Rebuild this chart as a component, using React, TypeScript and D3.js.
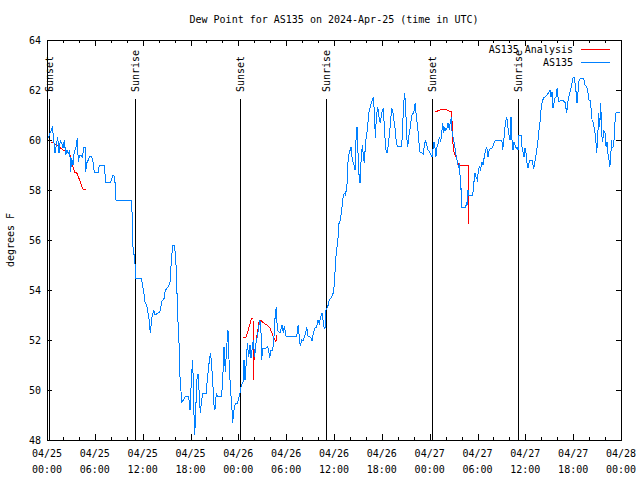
import React, { useEffect, useRef } from 'react';
import * as d3 from 'd3';

// time axis starts 2024-04-25 00:00 UTC, values are hours after that
const START_UTC = Date.UTC(2024, 3, 25);
const SPAN_HOURS = 72;

// AS135 observed dew point (F): [hour, value]
const as135Obs: [number, number][] = [
  [0.16, 60.07], [0.41, 60.3], [0.66, 60.5], [0.79, 60.2], [1.0, 59.47], [1.22, 59.87], [1.34, 60.13],
  [1.51, 59.47], [1.67, 60.0], [1.84, 59.87], [2.04, 59.67], [2.17, 60.0], [2.35, 59.4], [2.51, 59.6],
  [2.67, 59.47], [2.85, 59.6], [2.97, 58.73], [3.1, 59.27], [3.26, 59.0], [3.42, 59.53], [3.64, 59.73],
  [3.8, 60.07], [3.93, 59.13], [4.1, 59.4], [4.3, 59.4], [4.43, 59.27], [4.6, 59.7], [4.77, 59.7],
  [4.85, 58.73], [4.98, 59.07], [5.18, 59.2], [5.31, 59.33], [5.61, 59.33], [5.77, 59.13], [5.93, 58.7],
  [6.44, 58.7], [6.56, 59.0], [7.19, 59.0], [7.36, 58.3], [7.99, 58.3], [8.15, 58.47], [8.28, 58.6],
  [8.49, 58.53], [8.66, 57.6], [10.54, 57.6], [10.66, 57.2], [10.79, 55.73], [10.95, 55.33], [11.08, 54.93],
  [11.16, 54.47], [11.79, 54.47], [11.95, 54.27], [12.13, 53.93], [12.29, 53.53], [12.54, 53.33],
  [12.79, 52.87], [12.96, 52.27], [13.13, 52.87], [13.38, 53.2], [13.55, 53.0], [14.17, 53.13],
  [14.39, 53.53], [14.71, 53.67], [14.8, 53.93], [15.01, 54.07], [15.22, 54.13], [15.43, 54.33],
  [15.55, 54.93], [15.68, 55.47], [15.77, 55.8], [15.97, 55.8], [16.09, 55.47], [16.22, 54.8],
  [16.39, 53.0], [16.56, 51.87], [16.68, 50.53], [16.9, 49.53], [17.1, 49.6], [17.35, 49.73],
  [17.77, 49.73], [17.94, 49.2], [18.15, 50.67], [18.28, 51.2], [18.44, 49.0], [18.53, 48.2],
  [18.65, 49.07], [18.78, 50.4], [18.94, 50.63], [19.07, 50.0], [19.23, 49.07], [19.36, 49.47],
  [19.53, 49.87], [19.95, 49.87], [20.11, 50.4], [20.28, 50.93], [20.41, 51.33], [20.53, 51.47],
  [20.66, 50.93], [20.79, 50.33], [20.95, 49.4], [21.07, 49.2], [21.24, 49.87], [21.41, 49.73],
  [21.91, 49.73], [22.08, 50.73], [22.2, 51.73], [22.37, 50.73], [22.54, 51.73], [22.7, 52.4],
  [22.87, 50.87], [23.04, 49.93], [23.21, 49.2], [23.29, 48.69], [23.46, 49.2], [23.62, 49.44],
  [23.87, 49.47], [24.05, 49.67], [24.21, 49.87], [24.37, 50.2], [24.59, 50.33], [24.71, 51.2],
  [24.84, 50.4], [24.96, 50.93], [25.13, 51.87], [25.3, 51.33], [25.46, 51.8], [25.59, 51.27],
  [25.72, 51.6], [25.88, 52.0], [26.05, 51.33], [26.22, 51.87], [26.38, 52.13], [26.56, 52.53],
  [26.68, 52.77], [26.81, 52.73], [26.93, 51.2], [27.06, 51.67], [27.47, 51.67], [27.63, 51.73],
  [27.76, 51.67], [27.94, 51.27], [28.06, 51.6], [28.31, 51.6], [28.47, 52.13], [28.64, 53.07],
  [28.76, 53.31], [28.89, 52.4], [29.01, 52.33], [29.23, 52.3], [29.48, 52.6], [29.64, 52.27],
  [29.77, 52.56], [29.98, 52.16], [31.32, 52.16], [31.5, 52.6], [31.77, 51.75], [31.95, 52.0],
  [32.11, 51.95], [32.36, 52.2], [32.58, 52.5], [32.74, 52.15], [33.08, 52.1], [33.24, 51.95],
  [33.4, 52.27], [33.62, 52.47], [33.83, 52.53], [33.99, 52.8], [34.16, 52.67], [34.33, 52.93],
  [34.5, 53.07], [34.66, 52.73], [34.75, 52.5], [34.87, 52.47], [35.0, 53.2], [35.21, 53.33],
  [35.41, 53.6], [35.71, 53.71], [35.96, 53.93], [36.13, 54.73], [36.29, 55.53], [36.47, 55.93],
  [36.63, 56.67], [36.79, 56.8], [36.97, 57.2], [37.13, 57.67], [37.29, 57.87], [37.44, 57.8],
  [37.63, 58.2], [37.79, 59.33], [37.97, 59.53], [38.13, 59.73], [38.3, 59.2], [38.47, 59.07],
  [38.64, 58.8], [38.76, 60.0], [38.89, 60.53], [39.01, 59.5], [39.14, 58.6], [39.26, 58.27],
  [39.39, 59.13], [39.55, 59.8], [39.68, 59.4], [39.8, 59.07], [39.98, 60.0], [40.11, 60.2],
  [40.23, 60.6], [40.36, 61.07], [40.52, 61.27], [40.68, 61.47], [40.81, 61.6], [40.94, 61.73],
  [41.06, 61.13], [41.19, 60.07], [41.31, 60.93], [41.48, 61.33], [41.64, 60.93], [41.81, 60.67],
  [41.99, 61.07], [42.19, 61.27], [42.37, 60.2], [42.52, 59.6], [42.65, 59.47], [42.81, 59.8],
  [43.02, 60.47], [43.24, 61.27], [43.4, 61.07], [43.65, 60.47], [43.77, 60.07], [43.94, 59.73],
  [44.49, 59.73], [44.62, 60.6], [44.74, 61.47], [44.87, 61.87], [45.0, 61.2], [45.12, 60.13],
  [45.25, 59.73], [45.41, 60.2], [45.57, 60.53], [45.7, 60.87], [45.83, 61.07], [46.0, 61.07],
  [46.17, 61.47], [46.33, 60.93], [46.5, 60.53], [46.63, 60.0], [46.75, 59.53], [47.2, 59.44],
  [47.33, 59.8], [47.5, 60.0], [47.63, 59.8], [47.79, 59.6], [47.96, 59.53], [48.13, 59.44],
  [48.29, 59.31], [48.46, 59.73], [48.54, 59.93], [48.67, 59.67], [48.79, 59.33], [48.92, 59.73],
  [49.08, 59.87], [49.21, 60.13], [49.38, 59.93], [49.51, 60.27], [49.64, 60.67], [49.76, 60.27],
  [49.89, 60.53], [50.01, 60.4], [50.18, 60.47], [50.3, 60.67], [50.47, 60.4], [50.6, 60.8],
  [50.72, 60.87], [50.81, 60.33], [50.97, 60.07], [51.15, 59.73], [51.31, 59.4], [51.47, 59.13],
  [51.65, 58.87], [51.77, 59.07], [51.85, 58.0], [51.91, 58.5], [51.97, 57.29], [52.47, 57.29],
  [52.65, 57.47], [52.72, 57.4], [52.81, 58.0], [52.9, 57.8], [53.4, 57.8], [53.56, 58.33],
  [53.69, 58.67], [53.81, 58.53], [53.98, 58.4], [54.1, 58.73], [54.23, 58.93], [54.4, 58.8],
  [54.53, 59.13], [54.69, 59.0], [54.85, 59.33], [55.03, 59.6], [55.15, 59.73], [55.32, 59.33],
  [55.48, 59.6], [55.66, 59.67], [55.82, 59.67], [55.98, 59.8], [56.23, 60.0], [56.91, 60.0],
  [57.07, 59.93], [57.16, 59.6], [57.32, 60.07], [57.49, 60.67], [57.66, 60.93], [57.79, 60.6],
  [57.91, 60.27], [58.08, 60.0], [58.2, 60.93], [58.33, 60.0], [58.45, 59.6], [58.58, 59.93],
  [58.71, 59.8], [58.85, 59.67], [58.96, 59.73], [59.08, 59.6], [59.21, 60.2], [59.46, 60.2],
  [59.58, 59.73], [59.71, 59.53], [59.84, 59.33], [59.96, 59.67], [60.09, 59.47], [60.21, 59.07],
  [60.34, 58.87], [60.46, 59.07], [60.59, 59.2], [60.84, 59.2], [60.96, 59.0], [61.05, 58.83],
  [61.17, 59.07], [61.3, 59.33], [61.43, 59.6], [61.59, 60.0], [61.72, 60.4], [61.84, 60.73],
  [61.97, 61.2], [62.09, 61.47], [62.26, 61.67], [62.47, 61.73], [62.72, 61.8], [62.88, 61.87],
  [63.1, 62.0], [63.22, 61.73], [63.35, 61.93], [63.47, 61.27], [63.6, 61.47], [63.72, 61.67],
  [63.85, 61.73], [63.98, 62.07], [64.1, 61.73], [64.23, 61.53], [64.48, 61.6], [64.73, 61.57],
  [64.98, 61.5], [65.07, 61.33], [65.19, 61.07], [65.32, 61.47], [65.44, 61.73], [65.57, 61.87],
  [65.73, 62.07], [65.86, 62.27], [65.98, 62.47], [66.11, 62.53], [66.24, 62.27], [66.36, 61.93],
  [66.49, 61.47], [66.61, 61.93], [66.74, 62.4], [66.9, 62.47], [67.24, 62.47], [67.37, 62.4],
  [67.49, 62.2], [67.7, 62.13], [67.87, 61.87], [67.99, 61.6], [68.12, 61.6], [68.24, 61.27],
  [68.37, 60.8], [68.49, 60.73], [68.62, 60.53], [68.74, 60.27], [68.87, 59.87], [68.95, 59.47],
  [69.08, 60.13], [69.2, 61.07], [69.33, 60.53], [69.46, 61.47], [69.58, 60.2], [69.71, 59.93],
  [69.83, 60.4], [70.0, 60.27], [70.13, 59.73], [70.25, 59.93], [70.38, 59.4], [70.5, 59.2],
  [70.59, 58.93], [70.72, 59.27], [70.79, 60.0], [70.88, 59.67], [71.0, 59.73], [71.13, 60.0],
  [71.25, 60.73], [71.38, 61.11], [71.88, 61.11],
];

// AS135 Analysis (F), null = gap between runs
const as135Analysis: ([number, number] | null)[] = [
  [0.5, 59.9], [0.79, 59.9], [1.0, 59.83], [1.34, 59.77], [1.63, 59.7], [2.04, 59.6], [2.35, 59.53],
  [2.67, 59.47], [2.89, 59.4], [3.1, 59.07], [3.3, 58.87], [3.51, 58.7], [3.8, 58.67], [3.93, 58.53],
  [4.14, 58.37], [4.35, 58.16], [4.55, 58.03], [4.85, 58.03],
  null,
  [24.62, 52.1], [24.96, 52.1], [25.25, 52.4], [25.59, 52.8], [25.75, 52.87], [25.84, 52.87],
  [25.88, 50.4], [25.96, 51.2], [26.09, 51.5], [26.3, 52.1], [26.5, 52.5], [26.63, 52.8],
  [26.78, 52.8], [27.1, 52.7], [27.56, 52.6], [27.97, 52.47], [28.31, 52.2], [28.6, 52.0],
  [28.72, 51.93], [28.81, 52.2],
  null,
  [48.67, 61.13], [49.08, 61.17], [49.51, 61.23], [49.92, 61.23], [50.34, 61.17], [50.76, 61.13],
  [50.84, 60.4], [50.97, 59.6], [51.15, 59.4], [51.35, 59.31], [51.47, 59.13], [51.72, 59.0],
  [52.22, 59.0], [52.81, 58.97], [52.93, 56.63],
];

const sunEvents = [
  { label: 'Sunset', hour: 0.29 },
  { label: 'Sunrise', hour: 11.08 },
  { label: 'Sunset', hour: 24.25 },
  { label: 'Sunrise', hour: 35.0 },
  { label: 'Sunset', hour: 48.3 },
  { label: 'Sunrise', hour: 59.12 },
];

const yTicks = [48, 50, 52, 54, 56, 58, 60, 62, 64];

const hourToDate = (h: number) => new Date(START_UTC + h * 3600000);

const App: React.FC = () => {
  const svgRef = useRef<SVGSVGElement>(null);

  useEffect(() => {
    if (!svgRef.current) return;

    const width = 640;
    const height = 480;
    const margin = { top: 40, right: 19, bottom: 40, left: 47 };
    const font = "'DejaVu Sans Mono', 'Liberation Mono', monospace";

    const svg = d3.select(svgRef.current);
    svg.selectAll('*').remove();

    const xScale = d3.scaleUtc()
      .domain([hourToDate(0), hourToDate(SPAN_HOURS)])
      .range([margin.left, width - margin.right]);

    const yScale = d3.scaleLinear()
      .domain([48, 64])
      .range([height - margin.bottom, margin.top]);

    const x0 = margin.left;
    const x1 = width - margin.right;
    const y0 = height - margin.bottom;
    const y1 = margin.top;

    const frame = svg.append('g').attr('shape-rendering', 'crispEdges');

    // minor x ticks, every 2 hours, top and bottom
    const minor = xScale.ticks(d3.utcHour.every(2) as any);
    const major = xScale.ticks(d3.utcHour.every(6) as any);
    minor.forEach(t => {
      const x = Math.round(xScale(t)) + 0.5;
      const isMajor = major.some(m => +m === +t);
      const len = isMajor ? 6 : 3;
      frame.append('line').attr('x1', x).attr('x2', x).attr('y1', y0).attr('y2', y0 - len).attr('stroke', 'black');
      frame.append('line').attr('x1', x).attr('x2', x).attr('y1', y1).attr('y2', y1 + len).attr('stroke', 'black');
    });

    // y ticks, left and right
    yTicks.forEach(v => {
      const y = Math.round(yScale(v)) + 0.5;
      frame.append('line').attr('x1', x0).attr('x2', x0 + 5).attr('y1', y).attr('y2', y).attr('stroke', 'black');
      frame.append('line').attr('x1', x1).attr('x2', x1 - 5).attr('y1', y).attr('y2', y).attr('stroke', 'black');
      svg.append('text')
        .attr('x', x0 - 6)
        .attr('y', yScale(v))
        .attr('dy', '0.35em')
        .attr('text-anchor', 'end')
        .attr('font-family', font)
        .attr('font-size', 10)
        .text(v);
    });

    // x tick labels, two lines
    const fmtDay = d3.utcFormat('%m/%d');
    const fmtTime = d3.utcFormat('%H:%M');
    major.forEach(t => {
      const g = svg.append('text')
        .attr('text-anchor', 'middle')
        .attr('font-family', font)
        .attr('font-size', 10);
      g.append('tspan').attr('x', xScale(t)).attr('y', 457).text(fmtDay(t));
      g.append('tspan').attr('x', xScale(t)).attr('y', 473).text(fmtTime(t));
    });

    // sunrise / sunset markers
    sunEvents.forEach(ev => {
      const x = Math.round(xScale(hourToDate(ev.hour))) + 0.5;
      frame.append('line')
        .attr('x1', x).attr('x2', x)
        .attr('y1', 99).attr('y2', y0)
        .attr('stroke', 'black');
      svg.append('text')
        .attr('transform', `translate(${x},92) rotate(-90)`)
        .attr('dy', '0.35em')
        .attr('font-family', font)
        .attr('font-size', 10)
        .text(ev.label);
    });

    const line = d3.line<[number, number] | null>()
      .defined(d => d !== null)
      .x(d => xScale(hourToDate((d as [number, number])[0])))
      .y(d => yScale((d as [number, number])[1]));

    // analysis drawn first so the observations sit on top
    svg.append('path')
      .datum(as135Analysis)
      .attr('fill', 'none')
      .attr('stroke', '#ff0000')
      .attr('stroke-width', 1)
      .attr('shape-rendering', 'crispEdges')
      .attr('d', line as any);

    svg.append('path')
      .datum(as135Obs)
      .attr('fill', 'none')
      .attr('stroke', '#0080ff')
      .attr('stroke-width', 1)
      .attr('shape-rendering', 'crispEdges')
      .attr('d', line as any);

    // border
    frame.append('rect')
      .attr('x', x0 + 0.5)
      .attr('y', y1 + 0.5)
      .attr('width', x1 - x0)
      .attr('height', y0 - y1)
      .attr('fill', 'none')
      .attr('stroke', 'black');

    // legend
    const legend = [
      { label: 'AS135 Analysis', color: '#ff0000', y: 49.5 },
      { label: 'AS135', color: '#0080ff', y: 62.5 },
    ];
    legend.forEach(item => {
      svg.append('text')
        .attr('x', 573)
        .attr('y', item.y)
        .attr('dy', '0.35em')
        .attr('text-anchor', 'end')
        .attr('font-family', font)
        .attr('font-size', 10)
        .text(item.label);
      svg.append('line')
        .attr('x1', 581).attr('x2', 610)
        .attr('y1', item.y).attr('y2', item.y)
        .attr('stroke', item.color)
        .attr('shape-rendering', 'crispEdges');
    });

    svg.append('text')
      .attr('x', (x0 + x1) / 2)
      .attr('y', 23)
      .attr('text-anchor', 'middle')
      .attr('font-family', font)
      .attr('font-size', 10)
      .text('Dew Point for AS135 on 2024-Apr-25 (time in UTC)');

    svg.append('text')
      .attr('transform', `translate(10,${(y0 + y1) / 2}) rotate(-90)`)
      .attr('dy', '0.35em')
      .attr('text-anchor', 'middle')
      .attr('font-family', font)
      .attr('font-size', 10)
      .text('degrees F');
  }, []);

  return (
    <div style={{ position: 'absolute', left: 0, top: 0 }}>
      <svg ref={svgRef} width={640} height={480} style={{ display: 'block', background: 'white' }}></svg>
    </div>
  );
};

export default App;
